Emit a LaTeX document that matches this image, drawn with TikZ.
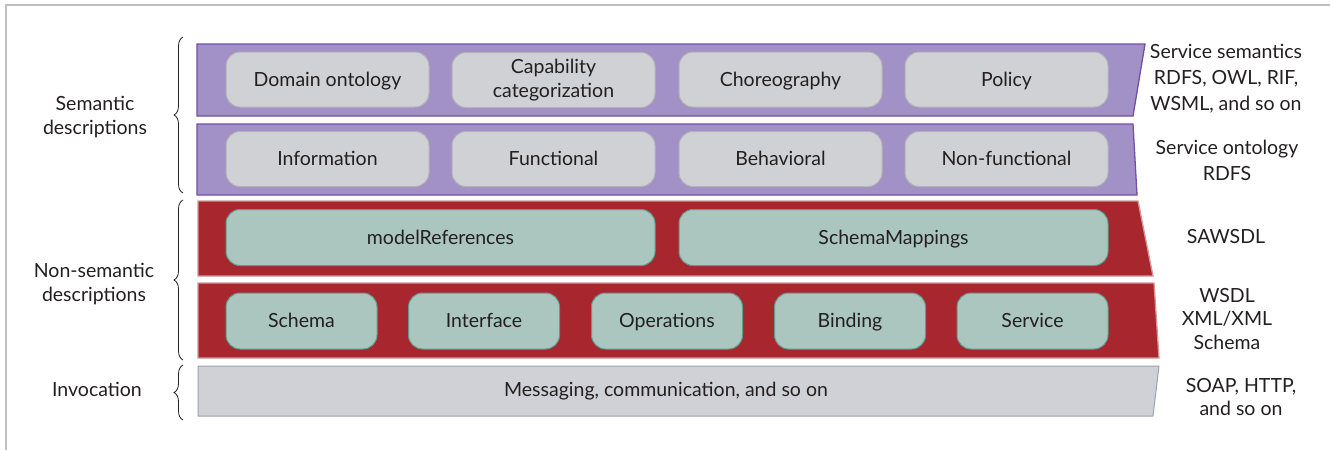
\documentclass[tikz,border=0pt]{standalone}
\usepackage{fontspec}
\setmainfont{Lato}
\usetikzlibrary{decorations.pathreplacing}
\definecolor{semfill}{RGB}{162,145,198}
\definecolor{semedge}{RGB}{118,78,162}
\definecolor{nonfill}{RGB}{168,38,45}
\definecolor{nonedge}{RGB}{214,150,150}
\definecolor{invfill}{RGB}{208,209,214}
\definecolor{invedge}{RGB}{160,162,172}
\definecolor{gbox}{RGB}{208,209,213}
\definecolor{gedge}{RGB}{178,178,184}
\definecolor{tbox}{RGB}{170,198,190}
\definecolor{tedge}{RGB}{96,156,142}
\definecolor{ink}{RGB}{35,31,32}
\tikzstyle{semlayer}=[fill=semfill,draw=semedge,line width=1.3pt]
\tikzstyle{nonlayer}=[fill=nonfill,draw=nonedge,line width=1.3pt]
\tikzstyle{invlayer}=[fill=invfill,draw=invedge,line width=1pt]
\tikzstyle{txt}=[text=ink,font=\fontsize{19.5}{24}\selectfont,align=center,inner sep=0pt]
\tikzstyle{one}=[text height=13pt,text depth=0pt]
\tikzstyle{semb}=[txt,rounded corners=14pt,fill=gbox,draw=gedge,line width=1pt,minimum height=55pt]
\tikzstyle{nonb}=[txt,one,rounded corners=14pt,fill=tbox,draw=tedge,line width=1pt,minimum height=56pt]
\tikzstyle{side}=[txt,font=\fontsize{19.5}{26}\selectfont]
\tikzstyle{grp}=[decorate,decoration={brace,amplitude=9pt},line width=0.8pt,ink]

\begin{document}
\begin{tikzpicture}[x=1pt,y=-1pt]
    \useasboundingbox (0,0) rectangle (1331,450);
    \draw[black!25,line width=1.2pt] (6,450) -- (6,5) -- (1330,5);
    % layers
    \draw[semlayer] (197,44) -- (1145,44) -- (1133,116) -- (197,116) -- cycle;
    \draw[semlayer] (197,124) -- (1133,124) -- (1137,195) -- (197,195) -- cycle;
    \draw[nonlayer] (198,201) -- (1138,201) -- (1153,276) -- (198,276) -- cycle;
    \draw[nonlayer] (198,283) -- (1154,283) -- (1159,358) -- (198,358) -- cycle;
    \draw[invlayer] (198,366) -- (1159,366) -- (1153,416) -- (198,416) -- cycle;
    \foreach \x/\t/\n in {327.5/Domain ontology/dom, 780.5/Choreography/cho, 1006.5/Policy/pol}
        \node[semb,one,minimum width=203pt] (\n) at (\x,79.5) {\t};
    \node[semb,minimum width=203pt] (cap) at (553.5,80) {Capability\\categorization};
    \foreach \x/\t/\n in {327.5/Information/inf, 553.5/Functional/fun,
                          780.5/Behavioral/beh, 1006.5/Non-functional/nfu}
        \node[semb,one,minimum width=203pt] (\n) at (\x,159) {\t};
    \node[nonb,minimum width=429pt] (mref) at (440.5,237.5) {modelReferences};
    \node[nonb,minimum width=429pt] (smap) at (893.5,237.5) {SchemaMappings};
    \foreach \x/\t/\n in {301.5/Schema/sch, 484/Interface/itf, 667/Operations/ope,
                          850/Binding/bin, 1032.5/Service/ser}
        \node[nonb,minimum width=151pt] (\n) at (\x,321) {\t};
    \node[txt,one] (msg) at (666,390) {Messaging, communication, and so on};
    % left side
    \draw[grp] (183,193) -- (183,37);
    \draw[grp] (183,360) -- (183,200);
    \draw[grp] (183,420) -- (183,365);
    \node[txt] (semd) at (95,117) {Semantic\\descriptions};
    \node[txt] (nsemd) at (94,284) {Non-semantic\\descriptions};
    \node[txt,one] (invd) at (97,390) {Invocation};
    % right side
    \node[side] (ssem) at (1226,79) {Service semantics\\RDFS, OWL, RIF,\\WSML, and so on};
    \node[side] (sont) at (1227,160) {Service ontology\\RDFS};
    \node[side,one] (saw) at (1226,237) {SAWSDL};
    \node[side,font=\fontsize{19.5}{23.5}\selectfont] (wsdl) at (1227,319) {WSDL\\XML/XML\\Schema};
    \node[side,font=\fontsize{19.5}{23.5}\selectfont] (soap) at (1241,397) {SOAP, HTTP,\\and so on};
\end{tikzpicture}
\end{document}
